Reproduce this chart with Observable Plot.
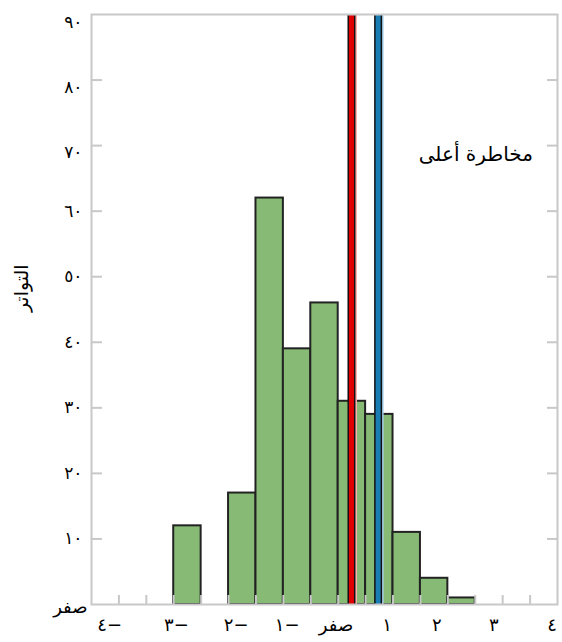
<!DOCTYPE html>
<html><head><meta charset="utf-8">
<script src="https://cdn.jsdelivr.net/npm/d3@7"></script>
<script src="https://cdn.jsdelivr.net/npm/@observablehq/plot@0.6"></script>
<style>body{margin:0;background:#fff}#chart{position:absolute;left:0;top:0}</style>
</head><body><div id="chart"></div>
<script>
// bins (start/end of each bin) and their frequencies
const binStarts = [-3, -2, -1.5, -1, -0.5, 0, 0.5, 1, 1.5, 2];
const binEnds = [-2.5, -1.5, -1, -0.5, 0, 0.5, 1, 1.5, 2, 2.5];
const frequencies = [12, 17, 62, 39, 46, 31, 29, 11, 4, 1];

// y tick values and labels
const yTicks = [10, 20, 30, 40, 50, 60, 70, 80];
const yLabelValues = [10, 20, 30, 40, 50, 60, 68.9, 78.8, 88.8];
const yTickLabels = ["١٠", "٢٠", "٣٠", "٤٠", "٥٠", "٦٠", "٧٠", "٨٠", "٩٠"];
const yZeroLabel = ["صفر"];

// x tick values and labels
const xTicks = [-4, -3.5, -3, -2.5, -2, -1.5, -1, -0.5, 0, 0.5, 1, 1.5, 2, 2.5, 3, 3.5];
const xLabelValues = [-4.17, -2.95, -1.86, -0.93, -0.04, 0.89, 1.8, 2.84, 3.9];
const xTickLabels = ["٤−", "٣−", "٢−", "١−", "صفر", "١", "٢", "٣", "٤"];

// vertical markers
const markerValues = [0.242, 0.728];
const markerColors = ["#e10000", "#1a7db3"];
const markerShades = ["#ffb0b0", "#a8d0ec"];

// annotation and axis title
const annotationText = ["مخاطرة أعلى"];
const annotationX = [2.51];
const annotationY = [68.6];
const yTitle = ["التواتر"];
const yTitleY = [44.6];

const bins = binStarts.map((s, i) => ({x1: s, x2: binEnds[i], y: frequencies[i]}));
const markers = markerValues.map((v, i) => ({x: v, color: markerColors[i], shade: markerShades[i]}));
const yLabels = yLabelValues.map((v, i) => ({y: v, t: yTickLabels[i]}));
const xLabels = xLabelValues.map((v, i) => ({x: v, t: xTickLabels[i]}));

const FONT = "'DejaVu Sans', sans-serif";
const gray = "#c8c8c8";

const chart = Plot.plot({
  width: 562, height: 642,
  marginLeft: 91, marginRight: 5, marginTop: 14, marginBottom: 38,
  x: {domain: [-4.5, 4]},
  y: {domain: [0, 90]},
  marks: [
    Plot.rectY(bins, {x1: "x1", x2: "x2", y: "y", fill: "#87bb75", stroke: "#222", strokeWidth: 2}),
    Plot.ruleX(markers, {x: "x", dx: 4, stroke: "shade", strokeWidth: 3}),
    Plot.ruleX(markers, {x: "x", stroke: "#111", strokeWidth: 8}),
    Plot.ruleX(markers, {x: "x", stroke: "color", strokeWidth: 5}),
    Plot.axisY({anchor: "left", ticks: yTicks, tickSize: -11, tickFormat: () => "", stroke: gray, strokeWidth: 2, label: null}),
    Plot.axisY({anchor: "right", ticks: yTicks, tickSize: -11, tickFormat: () => "", stroke: gray, strokeWidth: 2, label: null}),
    Plot.axisX({anchor: "bottom", ticks: xTicks, tickSize: -9, tickFormat: () => "", stroke: gray, strokeWidth: 2, label: null}),
    Plot.frame({stroke: gray, strokeWidth: 2}),
    Plot.text(yLabels, {y: "y", text: "t", frameAnchor: "left", textAnchor: "end", dx: -9, fontSize: 17, fontFamily: FONT, fill: "#000"}),
    Plot.text(yZeroLabel, {y: () => 0, text: d => d, frameAnchor: "left", textAnchor: "end", dx: -4, dy: 3, fontSize: 18, fontFamily: FONT, fill: "#000"}),
    Plot.text(xLabels, {x: "x", text: "t", frameAnchor: "bottom", dy: 26, fontSize: 18, fontFamily: FONT, fill: "#000"}),
    Plot.text(annotationText, {x: annotationX, y: annotationY, text: d => d, fontSize: 20, fontFamily: FONT, fill: "#000"}),
    Plot.text(yTitle, {y: yTitleY, text: d => d, frameAnchor: "left", dx: -70, rotate: -90, fontSize: 19, fontFamily: FONT, fill: "#000"})
  ]
});
document.getElementById("chart").appendChild(chart);
</script></body></html>
